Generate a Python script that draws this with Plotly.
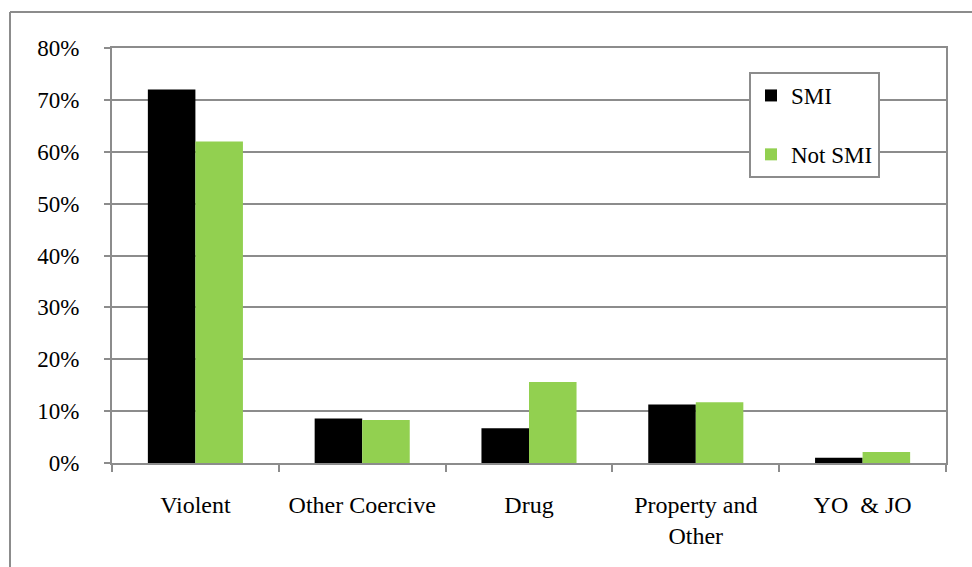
import plotly.graph_objects as go

categories = ["Violent", "Other Coercive", "Drug", "Property and<br>Other", "YO  & JO"]
smi = [0.72, 0.086, 0.067, 0.113, 0.010]
not_smi = [0.62, 0.083, 0.156, 0.117, 0.021]
y_ticks = [0, 0.1, 0.2, 0.3, 0.4, 0.5, 0.6, 0.7, 0.8]
y_tick_labels = ["0%", "10%", "20%", "30%", "40%", "50%", "60%", "70%", "80%"]

GRAY = "#8C8C8C"
FAM = "'Times New Roman', 'Liberation Serif', Tinos, 'DejaVu Serif', serif"
FONT = dict(family=FAM, size=24, color="#000000")

fig = go.Figure()
fig.add_trace(go.Bar(x=categories, y=smi, name="SMI", marker_color="#000000",
                     marker_line_width=0, legendgroup="a"))
fig.add_trace(go.Bar(x=categories, y=not_smi, name="Not SMI", marker_color="#92D050",
                     marker_line_width=0, legendgroup="b"))

L, R, T, B = 112, 26, 48, 104
W, H = 972, 567
pw, ph = W - L - R, H - T - B

def px(x):
    return (x - L) / pw

def py(y):
    return (H - B - y) / ph

fig.update_layout(
    width=W, height=H,
    margin=dict(l=L, r=R, t=T, b=B),
    paper_bgcolor="white", plot_bgcolor="white",
    font=FONT,
    barmode="group", bargap=0.43, bargroupgap=0,
    showlegend=True,
    legend=dict(
        x=px(749), y=py(72), xanchor="left", yanchor="top",
        bordercolor=GRAY, borderwidth=2, bgcolor="white",
        font=dict(family=FAM, size=23, color="#000000"),
        tracegroupgap=26, traceorder="grouped",
        itemwidth=30,
    ),
    shapes=[
        dict(type="line", xref="paper", yref="paper", x0=px(10), x1=px(972),
             y0=py(12), y1=py(12), line=dict(color=GRAY, width=2)),
        dict(type="line", xref="paper", yref="paper", x0=px(10), x1=px(10),
             y0=py(12), y1=py(567), line=dict(color=GRAY, width=2)),
    ],
)

fig.update_yaxes(
    range=[0, 0.8], tickvals=y_ticks, ticktext=y_tick_labels,
    showgrid=True, gridcolor=GRAY, gridwidth=2,
    showline=True, linecolor=GRAY, linewidth=2, mirror=True,
    ticks="outside", ticklen=6, tickcolor=GRAY, tickwidth=2,
    ticklabelstandoff=20, zeroline=False,
    tickfont=dict(family=FAM, size=23, color="#000000"),
)
fig.update_xaxes(
    type="category", tickson="boundaries",
    showgrid=False,
    showline=True, linecolor=GRAY, linewidth=2, mirror=True,
    ticks="outside", ticklen=7, tickcolor=GRAY, tickwidth=2,
    ticklabelstandoff=19,
    tickfont=FONT,
)

fig.write_html("out.html")
